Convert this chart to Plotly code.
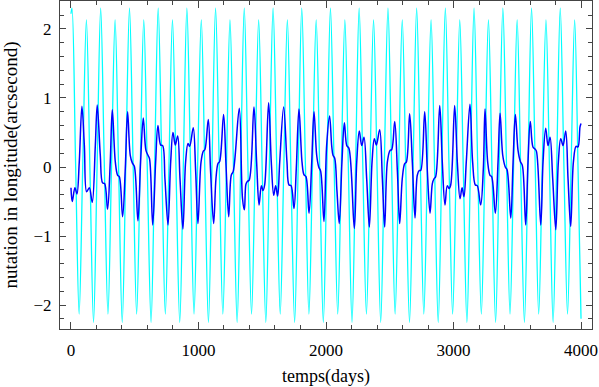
import plotly.graph_objects as go

# cyan curve: start, peaks / zero crossings / troughs, end
cyan_days = [0, 8, 36, 64, 92, 121, 149, 177, 205, 233, 261, 290, 318, 346, 374,
             402, 430, 459, 487, 515, 543, 571, 599, 628, 656, 684, 712, 740, 768,
             796, 824, 853, 881, 909, 937, 965, 993, 1022, 1050, 1078, 1106, 1134,
             1162, 1191, 1219, 1247, 1275, 1303, 1331, 1359, 1387, 1416, 1444, 1472,
             1500, 1528, 1556, 1585, 1613, 1641, 1669, 1697, 1725, 1754, 1782, 1810,
             1838, 1866, 1894, 1923, 1951, 1979, 2007, 2035, 2063, 2092, 2120, 2148,
             2176, 2204, 2232, 2260, 2288, 2317, 2345, 2373, 2401, 2429, 2457, 2486,
             2514, 2542, 2570, 2598, 2626, 2655, 2683, 2711, 2739, 2767, 2795, 2824,
             2852, 2880, 2908, 2936, 2964, 2993, 3021, 3049, 3077, 3105, 3133, 3161,
             3189, 3218, 3246, 3274, 3302, 3330, 3358, 3387, 3415, 3443, 3471, 3499,
             3527, 3556, 3584, 3612, 3640, 3668, 3696, 3725, 3753, 3781, 3809, 3837,
             3865, 3894, 3922, 3950, 3977, 4000]
cyan_vals = [2.22,
             2.30, 0.08, -2.13, 0.0, 2.13, -0.06, -2.25, 0.02,
             2.30, 0.08, -2.13, 0.0, 2.13, -0.06, -2.25, 0.02,
             2.30, 0.08, -2.13, 0.0, 2.13, -0.06, -2.25, 0.02,
             2.30, 0.08, -2.13, 0.0, 2.13, -0.06, -2.25, 0.02,
             2.30, 0.08, -2.13, 0.0, 2.13, -0.06, -2.25, 0.02,
             2.30, 0.08, -2.13, 0.0, 2.13, -0.06, -2.25, 0.02,
             2.30, 0.08, -2.13, 0.0, 2.13, -0.06, -2.25, 0.02,
             2.30, 0.08, -2.13, 0.0, 2.13, -0.06, -2.25, 0.02,
             2.30, 0.08, -2.13, 0.0, 2.13, -0.06, -2.25, 0.02,
             2.30, 0.08, -2.13, 0.0, 2.13, -0.06, -2.25, 0.02,
             2.30, 0.08, -2.13, 0.0, 2.13, -0.06, -2.25, 0.02,
             2.30, 0.08, -2.13, 0.0, 2.13, -0.06, -2.25, 0.02,
             2.30, 0.08, -2.13, 0.0, 2.13, -0.06, -2.25, 0.02,
             2.30, 0.08, -2.13, 0.0, 2.13, -0.06, -2.25, 0.02,
             2.30, 0.08, -2.13, 0.0, 2.13, -0.06, -2.25, 0.02,
             2.30, 0.08, -2.13, 0.0, 2.13, -0.06, -2.25, 0.02,
             2.30, 0.08, -2.13, 0.0, 2.13, -0.06, -2.25, 0.02,
             2.30, 0.08, -2.13, 0.0, 2.13,
             -0.06, -2.20]

# blue curve
blue_days = [0, 10, 31, 47, 65, 86, 105, 123, 144, 167, 191, 206, 230, 248, 264,
             287, 308, 324, 348, 366, 379, 405, 426, 444, 465, 481, 497, 525, 546,
             567, 588, 604, 616, 641, 664, 682, 703, 719, 737, 761, 782, 800, 818,
             837, 855, 878, 899, 918, 931, 959, 978, 996, 1020, 1038, 1050, 1077,
             1095, 1119, 1137, 1153, 1166, 1197, 1216, 1237, 1257, 1273, 1320, 1345,
             1360, 1372, 1383, 1398, 1435, 1456, 1475, 1493, 1506, 1519, 1550, 1571,
             1590, 1605, 1621, 1637, 1668, 1694, 1710, 1726, 1749, 1767, 1788, 1812,
             1827, 1843, 1867, 1888, 1906, 1927, 1943, 1958, 1984, 2005, 2028, 2045,
             2055, 2068, 2086, 2104, 2125, 2144, 2163, 2180, 2222, 2241, 2261, 2280,
             2298, 2319, 2340, 2361, 2379, 2395, 2421, 2442, 2460, 2481, 2502, 2515,
             2539, 2560, 2578, 2598, 2617, 2630, 2656, 2677, 2698, 2716, 2732, 2743,
             2774, 2795, 2816, 2834, 2847, 2860, 2892, 2912, 2933, 2951, 2965, 2978,
             3009, 3030, 3051, 3067, 3082, 3100, 3129, 3150, 3171, 3186, 3213, 3234,
             3247, 3268, 3286, 3299, 3328, 3349, 3365, 3386, 3406, 3420, 3449, 3467,
             3485, 3506, 3524, 3540, 3566, 3584, 3602, 3623, 3639, 3650, 3684, 3702,
             3723, 3741, 3757, 3778, 3802, 3822, 3841, 3859, 3880, 3898, 3919, 3940,
             3961, 3976, 3992, 4000]
blue_vals = [-0.30, -0.50, -0.30, -0.39, 0.07, 0.88, 0.31, -0.36, -0.30, -0.51, 0.31,
             0.90, 0.17, -0.23, -0.24, -0.61, 0.07, 0.83, 0.07, -0.12, -0.14, -0.72,
             -0.02, 0.80, 0.17, 0.06, 0.01, -0.78, 0.07, 0.71, 0.24, 0.17, 0.12,
             -0.84, 0.07, 0.60, 0.32, 0.31, -0.17, -0.84, 0.07, 0.50, 0.32, 0.45,
             -0.17, -0.90, 0.07, 0.34, 0.30, 0.57, -0.07, -0.82, 0.07, 0.23, 0.25,
             0.69, -0.07, -0.82, -0.17, 0.05, 0.08, 0.76, 0.02, -0.72, -0.12, -0.06,
             0.85, -0.45, -0.62, -0.25, -0.21, -0.19, 0.87, 0.07, -0.55, -0.27, -0.34,
             -0.26, 0.93, 0.07, -0.41, -0.27, -0.42, 0.07, 0.87, 0.07, -0.26, -0.27,
             -0.60, -0.02, 0.84, 0.07, -0.11, -0.14, -0.67, 0.07, 0.80, 0.17, 0.00,
             -0.06, -0.79, 0.31, 0.74, 0.30, 0.17, 0.13, -0.35, -0.82, 0.07, 0.64,
             0.31, 0.27, -0.89, 0.07, 0.52, 0.31, 0.43, -0.17, -0.87, 0.07, 0.41,
             0.32, 0.54, -0.17, -0.87, 0.07, 0.24, 0.25, 0.66, -0.07, -0.82, -0.17,
             0.05, 0.07, 0.77, 0.07, -0.74, -0.12, -0.05, -0.05, 0.80, -0.07, -0.67,
             -0.24, -0.17, -0.14, 0.89, 0.07, -0.55, -0.27, -0.31, -0.26, 0.89, 0.07,
             -0.46, -0.30, -0.43, 0.07, 0.91, 0.07, -0.26, -0.27, -0.55, -0.02, 0.84,
             0.07, -0.12, -0.14, -0.67, 0.07, 0.78, 0.17, 0.00, -0.04, -0.74, 0.07,
             0.76, 0.24, 0.08, 0.02, -0.84, 0.07, 0.66, 0.29, 0.26, 0.23, -0.84, 0.07,
             0.56, 0.31, 0.43, -0.17, -0.91, 0.07, 0.41, 0.31, 0.52, -0.17, -0.86,
             0.07, 0.30, 0.29, 0.58, 0.63]

font_family = "Liberation Serif, Times New Roman, serif"

fig = go.Figure()
fig.add_trace(
    go.Scatter(
        x=cyan_days,
        y=cyan_vals,
        mode="lines",
        line=dict(color="#00FFFF", width=1.3, shape="spline", smoothing=1),
        showlegend=False,
    )
)
fig.add_trace(
    go.Scatter(
        x=blue_days,
        y=blue_vals,
        mode="lines",
        line=dict(color="#0000FF", width=1.5, shape="spline", smoothing=1),
        showlegend=False,
    )
)

axis_common = dict(
    showline=True,
    linecolor="#444444",
    linewidth=1,
    mirror="ticks",
    ticks="inside",
    tickcolor="#444444",
    showgrid=False,
    zeroline=False,
    automargin=False,
    tickfont=dict(family=font_family, size=17, color="black"),
)

fig.update_xaxes(
    range=[-86, 4086],
    tickvals=[0, 1000, 2000, 3000, 4000],
    ticklen=7,
    ticklabelstandoff=6,
    minor=dict(dtick=200, tick0=0, ticks="inside", ticklen=4, tickcolor="#444444"),
    title=dict(text="temps(days)", font=dict(family=font_family, size=18, color="black"), standoff=10),
    **axis_common,
)
fig.update_yaxes(
    range=[-2.347, 2.405],
    tickvals=[-2, -1, 0, 1, 2],
    ticklen=6,
    ticklabelstandoff=4,
    minor=dict(dtick=0.2, tick0=0, ticks="inside", ticklen=4, tickcolor="#444444"),
    title=dict(text="nutation in longitude(arcsecond)", font=dict(family=font_family, size=19, color="black"), standoff=12),
    **axis_common,
)

fig.update_layout(
    width=599,
    height=387,
    margin=dict(l=60, r=7, t=1, b=58),
    plot_bgcolor="white",
    paper_bgcolor="white",
)

fig.write_html(
    "out.html",
    config={"displayModeBar": False},
    post_script="document.body.style.margin='0';",
)
